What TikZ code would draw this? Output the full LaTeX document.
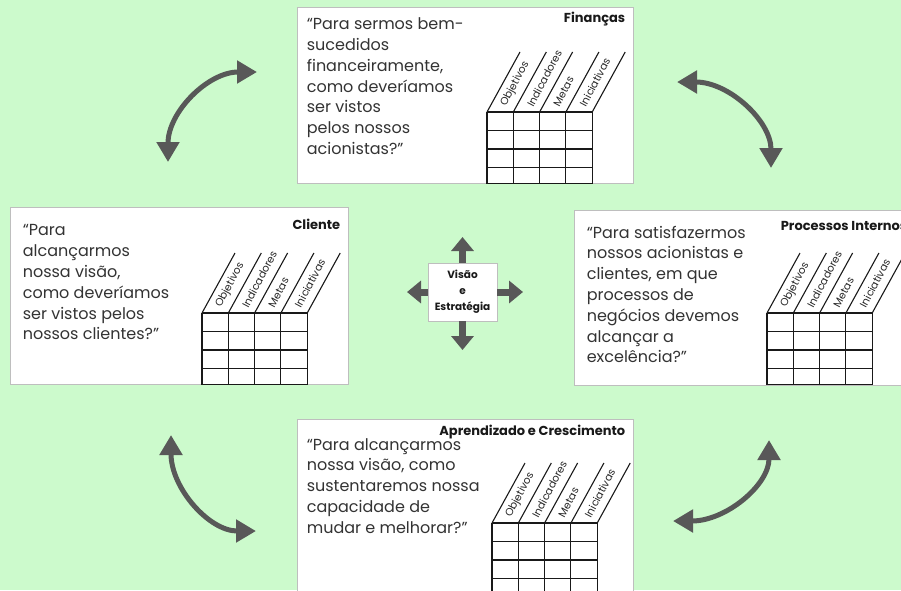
\documentclass[tikz,border=0pt]{standalone}
\usepackage{fontspec}
\setmainfont{Poppins}
\usetikzlibrary{arrows.meta,positioning}

\definecolor{bgGreen}{RGB}{204,250,204}
\definecolor{arrowGrey}{RGB}{88,88,88}
\definecolor{frameGrey}{RGB}{190,190,190}

\begin{document}
\begin{tikzpicture}
[x=1pt,y=-1pt,%
  boxDecorate/.style={shape=rectangle,draw=frameGrey,line width=0.8pt,fill=white,inner sep=0pt},%
  titleDecorate/.style={anchor=east,inner sep=0pt,text=black!90,font=\fontsize{13}{15}\selectfont\bfseries},%
  textDecorate/.style={anchor=north west,align=left,inner sep=0pt,text=black!80,font=\fontsize{16}{20.8}\selectfont},%
  gridDecorate/.style={line width=1.1pt,black!90},%
  labelDecorate/.style={anchor=west,rotate=62,inner sep=0pt,text=black!85,font=\fontsize{10.5}{11}\selectfont},%
  swingDecorate/.style={{Triangle[length=20pt,width=22pt]}-{Triangle[length=20pt,width=22pt]},line width=5pt,arrowGrey},%
  pushDecorate/.style={-{Triangle[length=14pt,width=22pt]},line width=7pt,arrowGrey}]
%% canvas
\useasboundingbox (0,0) rectangle (901,590);
\clip (0,0) rectangle (901,590);
\fill[bgGreen] (0,0) rectangle (901,590);
%% perspective boxes
\foreach \boxname/\x/\y/\w/\h in {
  fin/465/95/336/176, cli/179/295.5/338/177,
  pro/744.5/297.5/341/175, apr/465/509.5/336/181}
{
  \node (\boxname) at (\x,\y) [boxDecorate,minimum width=\w pt,minimum height=\h pt] {};
}
%% titles
\foreach \boxname/\title/\dy in {
  fin/Finanças/12, cli/Cliente/18,
  pro/Processos Internos/16, apr/Aprendizado e Crescimento/13}
{
  \node (\boxname-title) at ([xshift=-8pt,yshift=-\dy pt]\boxname.north east) [titleDecorate] {\title};
}
%% questions
\foreach \boxname/\dx/\dy/\question in {
  fin/10/11/{“Para sermos bem-\\sucedidos\\financeiramente,\\como deveríamos\\ser vistos\\pelos nossos\\acionistas?”},
  cli/13/18/{“Para\\alcançarmos\\nossa visão,\\como deveríamos\\ser vistos pelos\\nossos clientes?”},
  pro/13/16/{“Para satisfazermos\\nossos acionistas e\\clientes, em que\\processos de\\negócios devemos\\alcançar a\\excelência?”},
  apr/10/19.5/{“Para alcançarmos\\nossa visão, como\\sustentaremos nossa\\capacidade de\\mudar e melhorar?”}}
{
  \node (\boxname-question) at ([xshift=\dx pt,yshift=-\dy pt]\boxname.north west) [textDecorate] {\question};
}
%% scorecard grids
\foreach \gridname/\gx/\gy in {fin/487/112, cli/202/313, pro/767/313, apr/492/523}
{
  \foreach \i in {0,...,4}
  {
    \draw[gridDecorate] ({\gx+\i*26.3},\gy) -- ++(0,71.5);
    \draw[gridDecorate] ({\gx+\i*26.3},\gy) -- ++(33,-60);
  }
  \foreach \j in {0,18.5,37,55.5,71.5}
  {
    \draw[gridDecorate] (\gx,{\gy+\j}) -- ++(105.2,0);
  }
  \foreach \k/\measure in {0/Objetivos,1/Indicadores,2/Metas,3/Iniciativas}
  {
    \node (\gridname-\k) at ({\gx+(\k+0.5)*26.3+3.3},{\gy-6.2}) [labelDecorate] {\measure};
  }
}
%% vision and strategy
\node (vis) at (462.5,292) [boxDecorate,minimum width=69pt,minimum height=58pt,align=center,
  text=black!90,font=\fontsize{10.5}{16}\selectfont\bfseries] {Visão\\e\\Estratégia};
\foreach \tipname/\x/\y in {visN/462.5/237, visS/462.5/350, visW/407/292, visE/523/292}
{
  \coordinate (\tipname) at (\x,\y);
}
\foreach \side/\tipname in {north/visN, south/visS, west/visW, east/visE}
{
  \draw[pushDecorate] (vis.\side) -- (\tipname);
}
%% swinging arrows between perspectives
\foreach \tipname/\x/\y in {
  swTL1/257/72, swTL2/168/162, swTR1/677/82, swTR2/771/168,
  swBL1/171/435, swBL2/256/531, swBR1/769/440, swBR2/673/521}
{
  \coordinate (\tipname) at (\x,\y);
}
\draw[swingDecorate] (swTL1) .. controls +(-49,0) and +(0,-50) .. (swTL2);
\draw[swingDecorate] (swTR1) .. controls +(52,0) and +(0,-47) .. (swTR2);
\draw[swingDecorate] (swBL1) .. controls +(0,53) and +(-47,0) .. (swBL2);
\draw[swingDecorate] (swBR1) .. controls +(0,45) and +(53,0) .. (swBR2);
\end{tikzpicture}
\end{document}
